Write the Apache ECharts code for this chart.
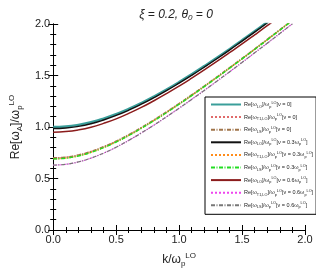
<!DOCTYPE html>
<html>
<head>
<meta charset="utf-8">
<script src="https://cdn.jsdelivr.net/npm/echarts@6/dist/echarts.min.js"></script>
<style>html,body{margin:0;padding:0;background:#fff}#c{width:316px;height:273px}</style>
</head>
<body>
<div id="c"></div>
<script>
const kValues = [0.0,0.1,0.2,0.3,0.4,0.5,0.6,0.7,0.8,0.9,1.0,1.1,1.2,1.3,1.4,1.5,1.6,1.7,1.8,1.9,2.0];
const xTicks = ['0.0','0.5','1.0','1.5','2.0'];
const yTicks = ['0.0','0.5','1.0','1.5','2.0'];

const loNu0  = [1.000,1.005,1.021,1.047,1.082,1.125,1.176,1.233,1.296,1.364,1.436,1.512,1.591,1.672,1.756,1.842,1.929,2.018,2.108];
const t1Nu0  = [0.700,0.707,0.728,0.762,0.808,0.862,0.925,0.994,1.068,1.146,1.227,1.311,1.397,1.485,1.575,1.665,1.757,1.850,1.944,2.038];
const lsNu0  = [0.700,0.707,0.728,0.762,0.808,0.862,0.925,0.994,1.068,1.146,1.227,1.311,1.397,1.485,1.575,1.665,1.757,1.850,1.944,2.038];
const loNu3  = [0.985,0.990,1.006,1.032,1.068,1.112,1.163,1.221,1.285,1.353,1.426,1.502,1.581,1.663,1.747,1.834,1.921,2.010,2.101];
const t1Nu3  = [0.690,0.697,0.719,0.753,0.799,0.854,0.917,0.987,1.061,1.139,1.221,1.305,1.392,1.480,1.570,1.661,1.753,1.846,1.940,2.035];
const lsNu3  = [0.690,0.697,0.719,0.753,0.799,0.854,0.917,0.987,1.061,1.139,1.221,1.305,1.392,1.480,1.570,1.661,1.753,1.846,1.940,2.035];
const loNu6  = [0.950,0.956,0.972,0.998,1.035,1.079,1.132,1.190,1.255,1.324,1.397,1.474,1.554,1.636,1.721,1.807,1.895,1.984,2.075];
const t1Nu6  = [0.630,0.638,0.661,0.698,0.746,0.804,0.870,0.942,1.018,1.099,1.182,1.268,1.355,1.445,1.535,1.627,1.720,1.813,1.907,2.002];
const lsNu6  = [0.630,0.638,0.661,0.698,0.746,0.804,0.870,0.942,1.018,1.099,1.182,1.268,1.355,1.445,1.535,1.627,1.720,1.813,1.907,2.002];

const seriesNames = ['LO0','T10','LS0','LO3','T13','LS3','LO6','T16','LS6'];
const legendLabels = {
  LO0: 'Re[ω{s|LO}]/ω{s|p}{u|LO}[ν = 0]',
  T10: 'Re[ω{s|T1,LO}]/ω{s|p}{u|LO}[ν = 0]',
  LS0: 'Re[ω{s|LS}]/ω{s|p}{u|LO}[ν = 0]',
  LO3: 'Re[ω{s|LO}]/ω{s|p}{u|LO}[ν = 0.3ω{s|p}{u|LO}]',
  T13: 'Re[ω{s|T1,LO}]/ω{s|p}{u|LO}[ν = 0.3ω{s|p}{u|LO}]',
  LS3: 'Re[ω{s|LS}]/ω{s|p}{u|LO}[ν = 0.3ω{s|p}{u|LO}]',
  LO6: 'Re[ω{s|LO}]/ω{s|p}{u|LO}[ν = 0.6ω{s|p}{u|LO}]',
  T16: 'Re[ω{s|T1,LO}]/ω{s|p}{u|LO}[ν = 0.6ω{s|p}{u|LO}]',
  LS6: 'Re[ω{s|LS}]/ω{s|p}{u|LO}[ν = 0.6ω{s|p}{u|LO}]'
};

function pairs(arr){ return arr.map((v,i)=>[kValues[i], v]); }
const dashDot = [4,1.5,1,1.5];
function mk(name, data, color, width, type){
  return {name, type:'line', data:pairs(data), symbol:'none', smooth:true,
    lineStyle:{color, width, type}, itemStyle:{color}, clip:true};
}
const FONT = '"Liberation Sans", Arial, sans-serif';
const NARROW = '"Liberation Sans Narrow", "Liberation Sans", Arial, sans-serif';
const chart = echarts.init(document.getElementById('c'), null, {renderer:'canvas'});
const axisCommon = {
  min:0, max:2, interval:0.5,
  axisLine:{show:true, lineStyle:{color:'#000', width:1}},
  axisTick:{show:true, inside:true, length:5, lineStyle:{color:'#000'}},
  minorTick:{show:true, splitNumber:5, length:3, lineStyle:{color:'#000'}},
  splitLine:{show:false}
};
chart.setOption({
  animation:false,
  backgroundColor:'#fff',
  title:{
    text:'{i|ξ = 0.2, θ}{s|0}{i| = 0}',
    left:171, top:2, textAlign:'center',
    textStyle:{fontWeight:'normal', rich:{
      i:{fontFamily:FONT, fontStyle:'italic', fontWeight:'normal', fontSize:12, color:'#222', lineHeight:15},
      s:{fontFamily:FONT, fontStyle:'italic', fontWeight:'normal', fontSize:8, color:'#222', verticalAlign:'bottom', lineHeight:15}
    }}
  },
  grid:{left:35, right:11, top:24, bottom:43, containLabel:false},
  legend:{
    orient:'vertical', left:205, top:97,
    data:seriesNames,
    itemWidth:30, itemHeight:7, itemGap:4.6,
    padding:[3.5,3,5,5],
    backgroundColor:'#fff', borderColor:'#000', borderWidth:1,
    itemStyle:{opacity:0},
    formatter:(n)=>legendLabels[n],
    textStyle:{fontFamily:NARROW, fontSize:5.5, color:'#222', padding:[0,0,0,-2], rich:{
      s:{fontFamily:NARROW, fontSize:3.8, color:'#222', verticalAlign:'bottom', lineHeight:8},
      u:{fontFamily:NARROW, fontSize:3.8, color:'#222', verticalAlign:'top', lineHeight:8}
    }}
  },
  xAxis:[
    Object.assign({type:'value', position:'bottom',
      axisLabel:{fontFamily:FONT, fontSize:11, color:'#222', margin:4, formatter:(v)=>xTicks[Math.round(v*2)]},
      name:'k/ω{s|p}{u|LO}', nameLocation:'middle', nameGap:22,
      nameTextStyle:{fontFamily:FONT, fontSize:12, color:'#222', rich:{
        s:{fontFamily:FONT, fontSize:8, color:'#222', verticalAlign:'bottom', lineHeight:16},
        u:{fontFamily:FONT, fontSize:8, color:'#222', verticalAlign:'top', lineHeight:16}
      }}
    }, axisCommon),
    Object.assign({type:'value', position:'top', axisLabel:{show:false}}, axisCommon)
  ],
  yAxis:[
    Object.assign({type:'value', position:'left',
      axisLabel:{fontFamily:FONT, fontSize:11, color:'#222', margin:3, formatter:(v)=>yTicks[Math.round(v*2)]},
      name:'Re[ω{s|A}]/ω{s|p}{u|LO}', nameLocation:'middle', nameGap:22, nameRotate:90,
      nameTextStyle:{fontFamily:FONT, fontSize:12, color:'#222', rich:{
        s:{fontFamily:FONT, fontSize:8, color:'#222', verticalAlign:'bottom', lineHeight:16},
        u:{fontFamily:FONT, fontSize:8, color:'#222', verticalAlign:'top', lineHeight:16}
      }}
    }, axisCommon),
    Object.assign({type:'value', position:'right', axisLabel:{show:false}}, axisCommon)
  ],
  series:[
    mk('LO0', loNu0, '#3a9e9a', 2.4, 'solid'),
    mk('T10', t1Nu0, '#e06a6a', 1.2, 'dotted'),
    mk('LS0', lsNu0, '#a0744a', 1.6, dashDot),
    mk('LO3', loNu3, '#111111', 1.4, 'solid'),
    mk('T13', t1Nu3, '#ff8c1a', 1.2, 'dotted'),
    mk('LS3', lsNu3, '#22dd22', 1.4, dashDot),
    mk('LO6', loNu6, '#8b1c1c', 1.5, 'solid'),
    mk('T16', t1Nu6, '#ee44ee', 1.2, 'dotted'),
    mk('LS6', lsNu6, '#777777', 1.2, dashDot)
  ]
});
</script>
</body>
</html>
